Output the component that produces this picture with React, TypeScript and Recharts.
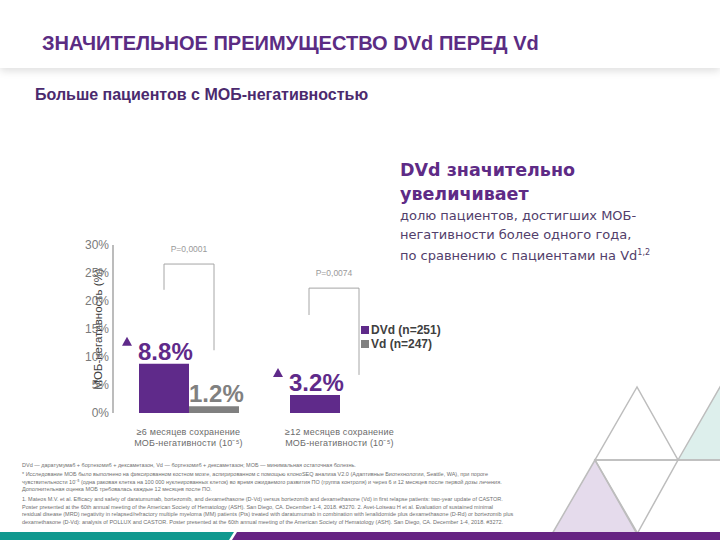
import React from "react";
import { Bar, BarChart, LabelList, Legend, XAxis, YAxis } from "recharts";

const categories = ["≥6 месяцев сохранение\nМОБ-негативности (10⁻⁵)", "≥12 месяцев сохранение\nМОБ-негативности (10⁻⁵)"];
const dvdValues = [8.8, 3.2];
const vdValues = [1.2, 0];
const pValues = ["P=0,0001", "P=0,0074"];
const yTicks = [0, 5, 10, 15, 20, 25, 30];

const PURPLE = "#5f2a8a";
const GRAY = "#808080";
const FONT = "'Liberation Sans', Arial, sans-serif";

const data = categories.map((c, i) => ({ category: c, dvd: dvdValues[i], vd: vdValues[i] }));

// bracket placement (in % units) for the p-value brackets
const bracketTop = [26.6, 22.3];
const bracketLeftEnd = [22.0, 17.5];
const bracketRightEnd = [11.2, 6.8];
const bracketShift = [0, -6];

function CategoryTick(props: any) {
  const { x, y, payload } = props;
  const lines = String(payload.value).split("\n");
  return (
    <g>
      {lines.map((l: string, i: number) => (
        <text key={i} x={x} y={y + 20 + i * 11} textAnchor="middle" fill="#6b6b6b" fontSize={9} fontFamily={FONT} letterSpacing={0.2}>
          {l}
        </text>
      ))}
    </g>
  );
}

function DvdLabel(props: any) {
  const { x, y, width, height, value, index } = props;
  if (!value) return null;
  const ppu = height / value;
  const base = y + height;
  const lx = x + width / 2 + bracketShift[index];
  const rx = x + width * 1.5 + bracketShift[index];
  const top = base - bracketTop[index] * ppu;
  return (
    <g>
      <text x={x - 1} y={y - 4} fill={PURPLE} fontSize={24} fontWeight="bold" fontFamily={FONT}>
        {value.toFixed(1)}%
      </text>
      <polygon points={`${x - 17},${y - 18} ${x - 7},${y - 18} ${x - 12},${y - 27}`} fill={PURPLE} />
      <polyline
        points={`${lx},${base - bracketLeftEnd[index] * ppu} ${lx},${top} ${rx},${top} ${rx},${base - bracketRightEnd[index] * ppu}`}
        fill="none"
        stroke="#a6a6a6"
        strokeWidth={1}
      />
      <text x={(lx + rx) / 2} y={top - 12} textAnchor="middle" fill="#9a9a9a" fontSize={8.5} fontFamily={FONT}>
        {pValues[index]}
      </text>
    </g>
  );
}

function VdLabel(props: any) {
  const { x, y, value } = props;
  if (!value) return null;
  return (
    <text x={x} y={y - 4} fill={GRAY} fontSize={24} fontWeight="bold" fontFamily={FONT}>
      {value.toFixed(1)}%
    </text>
  );
}

function LegendContent(props: any) {
  const { payload } = props;
  return (
    <div style={{ fontFamily: FONT, fontSize: 12, fontWeight: "bold", color: "#404040", lineHeight: "14px" }}>
      {(payload || []).map((p: any) => (
        <div key={p.value} style={{ display: "flex", alignItems: "center", whiteSpace: "nowrap" }}>
          <span style={{ display: "inline-block", width: 8, height: 8, background: p.color, marginRight: 2 }} />
          {p.value}
        </div>
      ))}
    </div>
  );
}

const footer1 = [
  "DVd — даратумумаб + бортезомиб + дексаметазон, Vd — бортезомиб + дексаметазон; МОБ — минимальная остаточная болезнь.",
];
const footer2 = [
  "* Исследование МОБ было выполнено на фиксированном костном мозге, аспирированном с помощью клоноSEQ анализа V2.0 (Адаптивные Биотехнологии, Seattle, WA), при пороге",
  "чувствительности 10⁻⁵ (одна раковая клетка на 100 000 нуклеированных клеток) во время ожидаемого развития ПО (группа контроля) и через 6 и 12 месяцев после первой дозы лечения.",
  "Дополнительная оценка МОБ требовалась каждые 12 месяцев после ПО.",
];
const footer3 = [
  "1. Mateos M.V. et al. Efficacy and safety of daratumumab, bortezomib, and dexamethasone (D-Vd) versus bortezomib and dexamethasone (Vd) in first relapse patients: two-year update of CASTOR.",
  "Poster presented at the 60th annual meeting of the American Society of Hematology (ASH). San Diego, CA. December 1-4, 2018. #3270. 2. Avet-Loiseau H et al. Evaluation of sustained minimal",
  "residual disease (MRD) negativity in relapsed/refractory multiple myeloma (MM) patients (Pts) treated with daratumumab in combination with lenalidomide plus dexamethasone (D-Rd) or bortezomib plus",
  "dexamethasone (D-Vd): analysis of POLLUX and CASTOR. Poster presented at the 60th annual meeting of the American Society of Hematology (ASH). San Diego, CA. December 1-4, 2018. #3272.",
];

function FooterBlock({ lines, top }: { lines: string[]; top: number }) {
  return (
    <div style={{ position: "absolute", left: 22, top, fontFamily: FONT, fontSize: 5.5, lineHeight: "7.6px", color: "#6f6f6f", whiteSpace: "nowrap" }}>
      {lines.map((l, i) => (
        <div key={i}>{l}</div>
      ))}
    </div>
  );
}

export default function App() {
  return (
    <div style={{ position: "absolute", left: 0, top: 0, width: 720, height: 540, background: "#fff", overflow: "hidden" }}>
      <div style={{ position: "absolute", left: 0, top: 0, width: 720, height: 68, background: "#fff", boxShadow: "0 3px 8px rgba(0,0,0,0.13)" }} />
      <div
        style={{
          position: "absolute",
          left: 42,
          top: 31,
          fontFamily: FONT,
          fontWeight: "bold",
          fontSize: 21,
          color: "#5b2c83",
          whiteSpace: "nowrap",
          transform: "scaleX(0.954)",
          transformOrigin: "0 0",
        }}
      >
        ЗНАЧИТЕЛЬНОЕ ПРЕИМУЩЕСТВО DVd ПЕРЕД Vd
      </div>
      <div style={{ position: "absolute", left: 35, top: 86, fontFamily: FONT, fontWeight: "bold", fontSize: 16, color: "#4b2a6e", whiteSpace: "nowrap" }}>
        Больше пациентов с МОБ-негативностью
      </div>

      <div style={{ position: "absolute", left: 0, top: 0 }}>
        <BarChart width={720} height={540} data={data} margin={{ top: 245, right: 305, bottom: 87, left: 73 }} barGap={0}>
          <XAxis dataKey="category" axisLine={false} tickLine={false} tickSize={0} height={40} interval={0} tick={<CategoryTick />} />
          <YAxis
            domain={[0, 30]}
            ticks={yTicks}
            width={40}
            tickSize={0}
            tickMargin={4}
            tickLine={false}
            axisLine={{ stroke: "#a6a6a6", strokeWidth: 1.5 }}
            tick={{ fill: "#7a7a7a", fontSize: 12, fontFamily: FONT }}
            tickFormatter={(v: number) => `${v}%`}
            label={{
              content: (p: any) => (
                <text
                  x={98}
                  y={p.viewBox.y + p.viewBox.height / 2}
                  transform={`rotate(-90 98 ${p.viewBox.y + p.viewBox.height / 2})`}
                  textAnchor="middle"
                  dominantBaseline="central"
                  fill="#404040"
                  fontSize={11.5}
                  fontFamily={FONT}
                >
                  МОБ-негативность (%)
                </text>
              ),
            }}
          />
          <Legend
            layout="vertical"
            align="center"
            verticalAlign="middle"
            content={<LegendContent />}
            wrapperStyle={{ left: 361, top: 323, width: 150, height: 30 }}
          />
          <Bar dataKey="dvd" name="DVd (n=251)" fill={PURPLE} barSize={50} isAnimationActive={false}>
            <LabelList dataKey="dvd" content={<DvdLabel />} />
          </Bar>
          <Bar dataKey="vd" name="Vd (n=247)" fill={GRAY} barSize={50} isAnimationActive={false}>
            <LabelList dataKey="vd" content={<VdLabel />} />
          </Bar>
        </BarChart>
      </div>

      <div style={{ position: "absolute", left: 400, top: 158, fontFamily: "'DejaVu Sans', sans-serif", color: "#5e2b86", fontWeight: "bold", fontSize: 17.5, lineHeight: "24px", whiteSpace: "nowrap" }}>
        <div>DVd значительно</div>
        <div>увеличивает</div>
      </div>
      <div style={{ position: "absolute", left: 400, top: 207, fontFamily: "'DejaVu Sans', sans-serif", color: "#52406b", fontSize: 13, lineHeight: "18.5px", whiteSpace: "nowrap" }}>
        <div>долю пациентов, достигших МОБ-</div>
        <div>негативности более одного года,</div>
        <div>
          по сравнению с пациентами на Vd<sup style={{ fontSize: 8 }}>1,2</sup>
        </div>
      </div>

      <FooterBlock lines={footer1} top={462} />
      <FooterBlock lines={footer2} top={471} />
      <FooterBlock lines={footer3} top={496} />

      <svg width={720} height={540} style={{ position: "absolute", left: 0, top: 0, pointerEvents: "none" }}>
        <polygon points="678,460 720,387 762,460" fill="#ddefec" stroke="#bdbdbd" strokeWidth={1.5} />
        <polygon points="595,460 552,534 638,534" fill="#e5dbec" stroke="#bdbdbd" strokeWidth={1.5} />
        <polygon points="637,387 595,460 678,460" fill="none" stroke="#bdbdbd" strokeWidth={1.5} />
        <polygon points="595,460 678,460 637,534" fill="none" stroke="#bdbdbd" strokeWidth={1.5} />
        <line x1={678} y1={460} x2={720} y2={460} stroke="#bdbdbd" strokeWidth={1.5} />
        <polygon points="0,532 234,532 229,540 0,540" fill="#10998f" />
        <polygon points="237,532 720,532 720,540 232,540" fill="#662483" />
      </svg>
    </div>
  );
}
